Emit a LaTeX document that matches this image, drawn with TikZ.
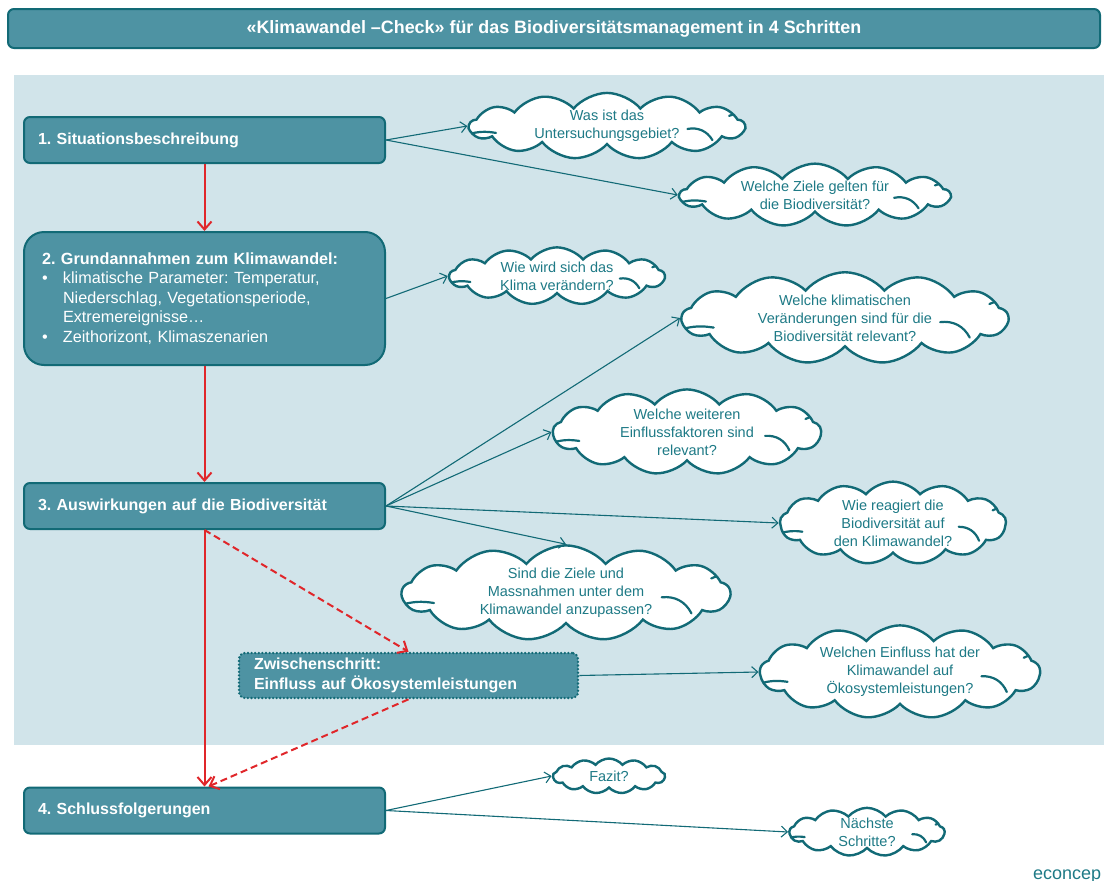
\documentclass[tikz,border=0pt]{standalone}
\usepackage{fontspec}
\setmainfont{Liberation Sans}
\usetikzlibrary{shapes.symbols,arrows.meta,calc}
\definecolor{tealfill}{RGB}{78,147,163}
\definecolor{tealdark}{RGB}{18,106,118}
\definecolor{tealtext}{RGB}{30,122,134}
\definecolor{panel}{RGB}{209,228,234}
\definecolor{flowred}{RGB}{224,38,42}
\begin{document}
\frenchspacing
\begin{tikzpicture}[x=1pt, y=-1pt]
    \tikzstyle{stepbox} = [rectangle, rounded corners=6pt, draw=tealdark, line width=2pt, fill=tealfill, text=white, font=\fontsize{16}{19.5}\selectfont\bfseries, minimum height=46pt, text width=333pt, inner xsep=14pt, align=left]
    \tikzstyle{question} = [cloud, cloud puffs=13, cloud puff arc=100, cloud ignores aspect, draw=tealdark, line width=2.4pt, fill=white, text=tealtext, font=\fontsize{14.5}{18}\selectfont, align=center, inner sep=0pt,
        path picture={
            \draw [tealdark, line width=2.2pt, line cap=round]
                let \p1=(path picture bounding box.south west), \p2=(path picture bounding box.north east),
                    \n1={\x2-\x1}, \n2={\y2-\y1} in
                ({\x1}, {\y2-0.63*\n2}) to[bend left=12] ({\x1+0.10*\n1}, {\y2-0.61*\n2})
                ({\x2}, {\y2-0.30*\n2}) to[bend right=10] ({\x2-0.06*\n1}, {\y2-0.35*\n2})
                ({\x2-0.21*\n1}, {\y2-0.55*\n2}) to[bend left=35] ({\x2-0.12*\n1}, {\y2-0.72*\n2});
        }]
    \tikzstyle{line} = [draw=tealdark, line width=1.1pt, -{Straight Barb[length=6pt,width=11pt]}]
    \tikzstyle{flow} = [draw=flowred, line width=2pt, -{Straight Barb[length=8pt,width=14pt]}]

    \useasboundingbox (0,0) rectangle (1104,881);
    \fill[panel] (14,75) rectangle (1104,745);

    \node [stepbox, minimum width=1092pt, text width=, align=center, minimum height=39pt, font=\fontsize{17.9}{20}\selectfont\bfseries] (title) at (554,28.5) {«Klimawandel –Check» für das Biodiversitätsmanagement in 4 Schritten};

    % steps
    \node [stepbox] (s1) at (204.5,140) {1. Situationsbeschreibung};
    \node [stepbox, rounded corners=20pt, minimum height=133pt, text width=325pt, inner xsep=18pt, font=\fontsize{16.2}{19.5}\selectfont] (s2) at (204.5,298.5) {\textbf{2. Grundannahmen zum Klimawandel:}\\
        \makebox[21pt][l]{•}klimatische Parameter: Temperatur,\\
        \hspace*{21pt}Niederschlag, Vegetationsperiode,\\
        \hspace*{21pt}Extremereignisse…\\
        \makebox[21pt][l]{•}Zeithorizont, Klimaszenarien};
    \node [stepbox] (s3) at (204.5,506) {3. Auswirkungen auf die Biodiversität};
    \node [stepbox, dash pattern=on 0pt off 3.6pt, line cap=round, line width=2.6pt, minimum height=45pt, text width=309pt, inner xsep=15pt] (zw) at (408.5,675.5) {Zwischenschritt:\\Einfluss auf Ökosystemleistungen};
    \node [stepbox] (s4) at (204.5,810.5) {4. Schlussfolgerungen};

    % questions
    \node [question, minimum width=275pt, minimum height=50pt] (c1) at (607,126) {Was ist das\\Untersuchungsgebiet?};
    \node [question, minimum width=270pt, minimum height=50pt] (c2) at (815,195) {Welche Ziele gelten für\\die Biodiversität?};
    \node [question, minimum width=215pt, minimum height=48pt] (c3) at (557,276) {Wie wird sich das\\Klima verändern?};
    \node [question, minimum width=326pt, minimum height=90pt] (c4) at (845,318) {Welche klimatischen\\Veränderungen sind für die\\Biodiversität relevant?};
    \node [question, minimum width=268pt, minimum height=74pt] (c5) at (687,432) {Welche weiteren\\Einflussfaktoren sind\\relevant?};
    \node [question, minimum width=226pt, minimum height=78pt] (c6) at (893,523) {Wie reagiert die\\Biodiversität auf\\den Klimawandel?};
    \node [question, minimum width=328pt, minimum height=82pt] (c7) at (566,593) {Sind die Ziele und\\Massnahmen unter dem\\Klimawandel anzupassen?};
    \node [question, minimum width=280pt, minimum height=64pt] (c8) at (900,672) {Welchen Einfluss hat der\\Klimawandel auf\\Ökosystemleistungen?};
    \node [question, path picture={}, minimum width=112pt, minimum height=35pt] (c9) at (609,776) {Fazit?};
    \node [question, minimum width=155pt, minimum height=45pt] (c10) at (867,832) {Nächste\\Schritte?};

    \node [anchor=base west, text=tealtext, font=\fontsize{18}{20}\selectfont, inner sep=0pt] (logo) at (1033,879) {econcep};

    % red flow
    \draw [flow] (s1.south) -- (s2.north);
    \draw [flow] (s2.south) -- (s3.north);
    \draw [flow] (s3.south) -- (s4.north);
    \draw [flow, dash pattern=on 7pt off 4pt] (s3.south) -- (zw.north);
    \draw [flow, dash pattern=on 7pt off 4pt] (zw.south) -- ([xshift=4pt]s4.north);

    % questions links
    \draw [line] (s1.east) -- (c1.west);
    \draw [line] (s1.east) -- (c2.west);
    \draw [line] (s2.east) -- (c3.west);
    \draw [line] (s3.east) -- (c4.west);
    \draw [line] (s3.east) -- (c5.west);
    \draw [line] (s3.east) -- (c6.west);
    \draw [line] (s3.east) -- (c7.north);
    \draw [line] (zw.east) -- (c8.west);
    \draw [line] (s4.east) -- (c9.west);
    \draw [line] (s4.east) -- (c10.west);
\end{tikzpicture}
\end{document}
